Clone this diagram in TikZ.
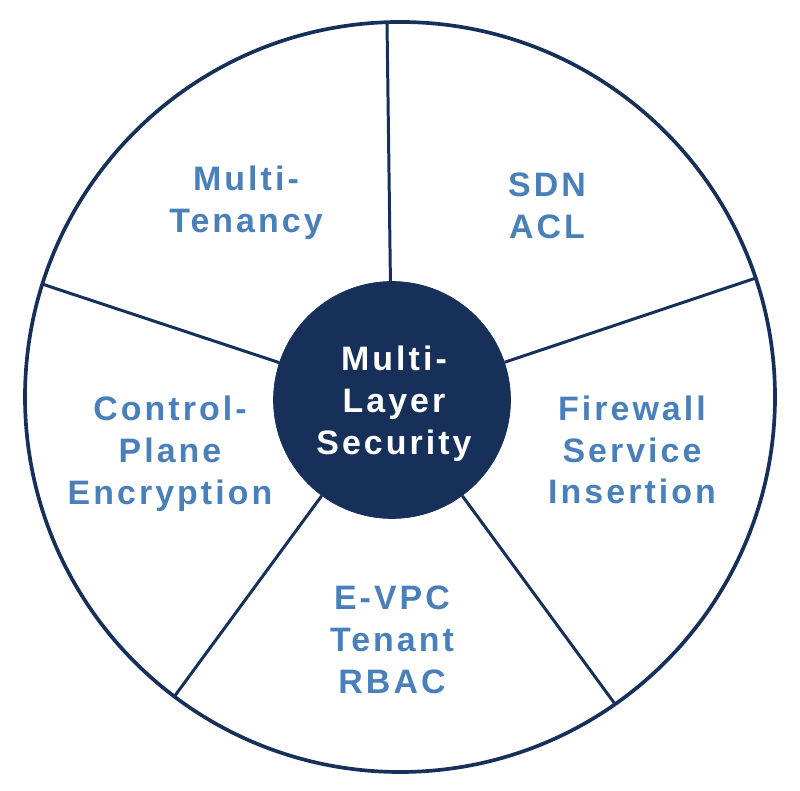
\documentclass[tikz,border=0pt]{standalone}
\usepackage{fontspec}
\newfontfamily\diagfont{Liberation Sans}[LetterSpace=9]
\usetikzlibrary{positioning}
\definecolor{navyblue}{RGB}{23, 48, 90}
\definecolor{labelblue}{RGB}{74, 128, 186}

\begin{document}
\begin{tikzpicture}[
    x=0.02cm, y=0.02cm,
    hub/.style={circle, fill=navyblue, draw=navyblue, minimum size=4.74cm, inner sep=0pt},
    hubtext/.style={text=white, align=center, font=\diagfont\bfseries\fontsize{19.3}{23.8}\selectfont},
    seglabel/.style={text=labelblue, align=center, font=\diagfont\bfseries\fontsize{19.3}{23.8}\selectfont},
    rim/.style={draw=navyblue, line width=2.1pt},
    spoke/.style={draw=navyblue, line width=1.7pt}
]
  \useasboundingbox (0,0) rectangle (800,790);

  % outer ring
  \coordinate (centre) at (400,393);
  \draw[rim] (centre) circle[radius=375];

  % centre hub
  \node[hub] (hub) at (392,390) {};
  \node[hubtext] (hubtitle) at (394,386) {Multi-\\Layer\\Security};

  % rim points
  \coordinate (rimtop) at (387,768);
  \coordinate (rimright) at (756,512);
  \coordinate (rimbr) at (615,86);
  \coordinate (rimbl) at (174,93);
  \coordinate (rimleft) at (42,506);

  % spokes
  \draw[spoke] (hub) -- (rimtop);
  \draw[spoke] (hub) -- (rimright);
  \draw[spoke] (hub) -- (rimbr);
  \draw[spoke] (hub) -- (rimbl);
  \draw[spoke] (hub) -- (rimleft);

  % segment labels
  \node[seglabel] (tenancy) at (246,587) {Multi-\\Tenancy};
  \node[seglabel] (sdnacl) at (547,584) {SDN\\ACL};
  \node[seglabel] (firewall) at (632,340) {Firewall\\Service\\Insertion};
  \node[seglabel] (evpc) at (392,150) {E-VPC\\Tenant\\RBAC};
  \node[seglabel] (control) at (170,336) {Control-\\Plane\\Encryption};
\end{tikzpicture}
\end{document}
